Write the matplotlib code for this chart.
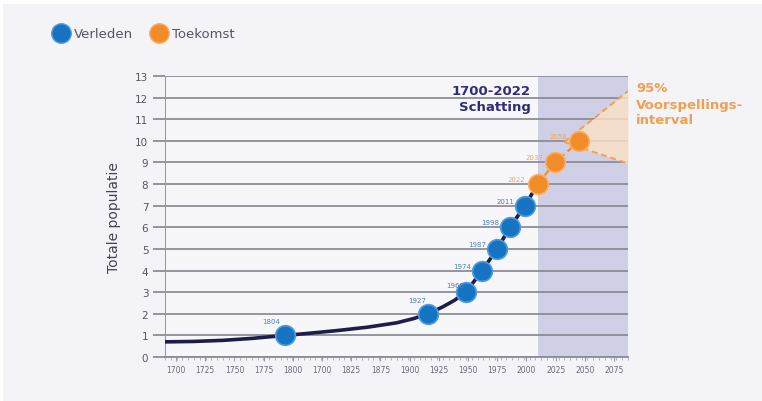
import numpy as np
import matplotlib
matplotlib.use("Agg")
import matplotlib.pyplot as plt
from matplotlib.lines import Line2D
from matplotlib.patches import Rectangle

# Milestones: year at which world population reached each billion
past_years = [1804, 1927, 1960, 1974, 1987, 1998, 2011]
past_pop = [1, 2, 3, 4, 5, 6, 7]
future_years = [2022, 2037, 2058]
future_pop = [8, 9, 10]

# Estimated population curve 1700-2022 (billions)
curve_years = [1700, 1725, 1750, 1775, 1804, 1825, 1850, 1875, 1900, 1915,
               1927, 1940, 1950, 1960, 1974, 1987, 1998, 2011, 2022]
curve_pop = [0.70, 0.72, 0.77, 0.86, 1.0, 1.10, 1.23, 1.38, 1.58, 1.78,
             2.0, 2.32, 2.62, 3.0, 4.0, 5.0, 6.0, 7.0, 8.0]

# 95% prediction interval fan
fan_years = [2045, 2100]
fan_upper = [9.95, 12.3]
fan_lower = [9.95, 8.95]

x_tick_labels = ["1700", "1725", "1750", "1775", "1800", "1700", "1825", "1875",
                 "1900", "1925", "1950", "1975", "2000", "2025", "2050", "2075"]
y_ticks = list(range(0, 14))

BLUE = "#1674c2"
BLUE_EDGE = "#4f9be0"
ORANGE = "#f28c28"
ORANGE_EDGE = "#f7b066"
NAVY = "#1e1c4a"
GRID = "#8d8d96"
BG = "#f3f3f8"

fig = plt.figure(figsize=(7.62, 4.02), dpi=100, facecolor=BG)
# thin white frame at top and left
fig.patches.append(Rectangle((0, 1 - 5 / 402), 1, 5 / 402, transform=fig.transFigure,
                             facecolor="white", edgecolor="none", zorder=0))
fig.patches.append(Rectangle((0, 0), 3 / 762, 1, transform=fig.transFigure,
                             facecolor="white", edgecolor="none", zorder=0))

ax = fig.add_axes([165 / 762, 1 - 358 / 402, (628 - 165) / 762, (358 - 77) / 402])
ax.set_facecolor("#f7f7fa")
ax.set_xlim(1700, 2100)
ax.set_ylim(0, 13)

# forecast period shading
ax.axvspan(2022, 2100, color="#cfd0e6", zorder=0.5, lw=0)

# horizontal gridlines
ax.set_yticks(y_ticks)
ax.yaxis.grid(True, color=GRID, lw=1.3, zorder=1)
ax.set_axisbelow(True)
ax.tick_params(axis="y", length=9, width=1.3, color=GRID, labelsize=7.5,
               labelcolor="#555560", pad=3)

# x ticks
tick_pos = np.linspace(1709.5, 2088, len(x_tick_labels))
ax.set_xticks(tick_pos)
ax.set_xticklabels(x_tick_labels)
ax.set_xticks(np.arange(1700, 2101, 5), minor=True)
ax.tick_params(axis="x", which="major", length=3, width=0.8, color="#9a9aa2",
               labelsize=5.5, labelcolor="#6a6a78", pad=3)
ax.tick_params(axis="x", which="minor", length=2, width=0.6, color="#a8a8b0")

for s in ["top", "right"]:
    ax.spines[s].set_visible(False)
ax.spines["left"].set_color("#9a9aa2")
ax.spines["left"].set_linewidth(0.8)
ax.spines["bottom"].set_color(GRID)
ax.spines["bottom"].set_linewidth(1.3)

ax.set_ylabel("Totale populatie", fontsize=10, color="#444450", labelpad=10)

# prediction fan
ax.fill_between(fan_years, fan_lower, fan_upper, color="#fde2c6", alpha=0.8,
                lw=0, zorder=2)
ax.plot(fan_years, fan_upper, color="#f2a04e", lw=1.4, ls=(0, (3, 2)), zorder=3)
ax.plot(fan_years, fan_lower, color="#f2a04e", lw=1.4, ls=(0, (3, 2)), zorder=3)

# estimated curve and projection
ax.plot(curve_years, curve_pop, color=NAVY, lw=2.6, zorder=3, solid_capstyle="butt")
ax.plot(future_years, future_pop, color=ORANGE, lw=1.6, ls=(0, (3, 2)), zorder=3)

ax.scatter(past_years, past_pop, s=200, color=BLUE, edgecolor=BLUE_EDGE,
           linewidth=1.2, zorder=4, clip_on=False)
ax.scatter(future_years, future_pop, s=200, color=ORANGE, edgecolor=ORANGE_EDGE,
           linewidth=1.2, zorder=4, clip_on=False)

label_offsets = {1804: (-14, 14), 1927: (-11, 14), 1960: (-11, 7)}
for yr, p in zip(past_years, past_pop):
    dx, dy = label_offsets.get(yr, (-20, 5))
    ax.annotate(str(yr), (yr, p), xytext=(dx, dy), textcoords="offset pixels",
                ha="center", va="center", fontsize=5, color="#4d7fc4", zorder=5)
for yr, p in zip(future_years, future_pop):
    ax.annotate(str(yr), (yr, p), xytext=(-21, 5), textcoords="offset pixels",
                ha="center", va="center", fontsize=5, color="#f3a55a", zorder=5)

ax.text(2016, 11.95, "1700-2022\nSchatting", ha="right", va="center",
        fontsize=9.5, fontweight="bold", color="#2e2c7c", linespacing=1.3, zorder=5)
fig.text(636 / 762, 1 - 105 / 402, "95%\nVoorspellings-\ninterval", ha="left",
         va="center", fontsize=9.5, fontweight="bold", color="#f0a050",
         linespacing=1.3)

# legend
handles = [Line2D([], [], marker="o", ls="none", markersize=14, markerfacecolor=BLUE,
                  markeredgecolor=BLUE_EDGE),
           Line2D([], [], marker="o", ls="none", markersize=14, markerfacecolor=ORANGE,
                  markeredgecolor=ORANGE_EDGE)]
fig.legend(handles, ["Verleden", "Toekomst"], loc="center left",
           bbox_to_anchor=(40 / 762, 1 - 35 / 402), ncol=2, frameon=False,
           fontsize=9.5, labelcolor="#555560", handletextpad=0.3,
           columnspacing=1.2, handlelength=1.4)

fig.savefig("out.png", dpi=100, facecolor=BG)
